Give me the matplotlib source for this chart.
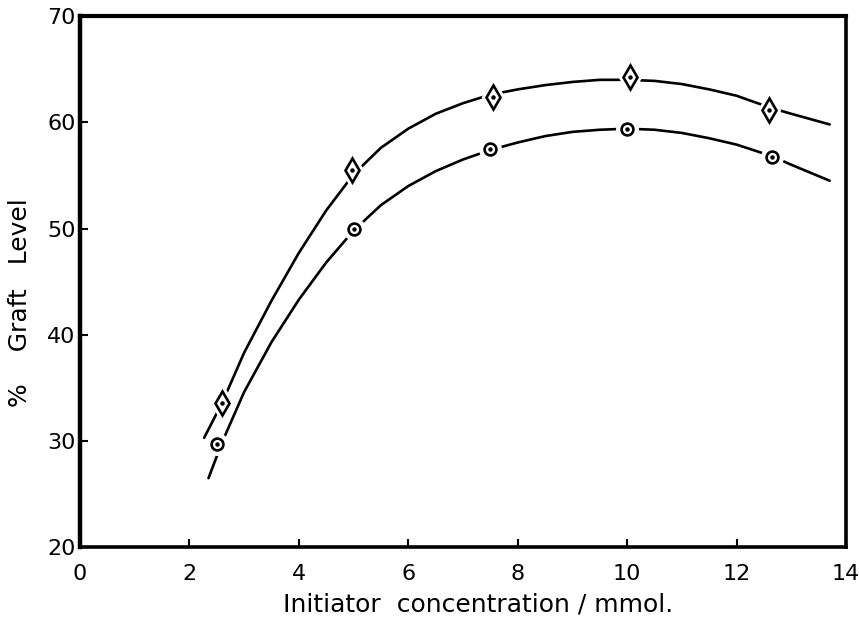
import numpy as np
import matplotlib

matplotlib.use("Agg")
import matplotlib.pyplot as plt

diamond_x = [2.6, 4.98, 7.55, 10.05, 12.6]
diamond_y = [33.6, 55.5, 62.4, 64.3, 61.2]
circle_x = [2.5, 5.0, 7.5, 10.0, 12.65]
circle_y = [29.7, 50.0, 57.5, 59.4, 56.7]

# hand-drawn curves
upper_curve_x = [2.27, 2.6, 3.0, 3.5, 4.0, 4.5, 5.0, 5.5, 6.0, 6.5, 7.0, 7.5,
                 8.0, 8.5, 9.0, 9.5, 10.0, 10.5, 11.0, 11.5, 12.0, 12.6, 13.0,
                 13.7]
upper_curve_y = [30.3, 33.6, 38.3, 43.2, 47.7, 51.7, 55.1, 57.6, 59.4, 60.8,
                 61.8, 62.6, 63.1, 63.5, 63.8, 64.0, 64.0, 63.9, 63.6, 63.1,
                 62.5, 61.4, 60.8, 59.8]
lower_curve_x = [2.35, 2.6, 3.0, 3.5, 4.0, 4.5, 5.0, 5.5, 6.0, 6.5, 7.0, 7.5,
                 8.0, 8.5, 9.0, 9.5, 10.0, 10.5, 11.0, 11.5, 12.0, 12.65, 13.0,
                 13.7]
lower_curve_y = [26.5, 29.9, 34.6, 39.3, 43.3, 46.8, 49.8, 52.2, 54.0, 55.4,
                 56.5, 57.4, 58.1, 58.7, 59.1, 59.3, 59.4, 59.3, 59.0, 58.5,
                 57.9, 56.8, 56.0, 54.5]

x_ticks = [0, 2, 4, 6, 8, 10, 12, 14]
y_ticks = [20, 30, 40, 50, 60, 70]

plt.rcParams["font.family"] = ["DejaVu Sans"]

fig = plt.figure(figsize=(8.59, 6.19), dpi=100)
ax = fig.add_axes([0.093, 0.116, 0.892, 0.858])


def draw_series(cx, cy, xs, ys, marker, ms):
    ax.plot(cx, cy, color="black", lw=1.9, zorder=2, solid_capstyle="round",
            solid_joinstyle="round")
    # white halo so the curve breaks around each point, as in the drawing
    ax.plot(xs, ys, linestyle="none", marker=marker, ms=ms + 7, mfc="white",
            mec="white", zorder=3)
    ax.plot(xs, ys, linestyle="none", marker=marker, ms=ms, mfc="white",
            mec="black", mew=1.9, zorder=4)
    ax.plot(xs, ys, linestyle="none", marker="o", ms=2.2, color="black",
            zorder=5)


draw_series(upper_curve_x, upper_curve_y, diamond_x, diamond_y, "d", 12)
draw_series(lower_curve_x, lower_curve_y, circle_x, circle_y, "o", 8.5)

ax.set_xlim(0, 14)
ax.set_ylim(20, 70)
ax.set_xticks(x_ticks)
ax.set_yticks(y_ticks)
ax.tick_params(direction="in", length=6, width=1.5, labelsize=16,
               top=False, right=False)
ax.tick_params(axis="x", pad=12)
ax.tick_params(axis="y", pad=3)

for side, w in [("left", 3.2), ("bottom", 2.6), ("top", 3.0), ("right", 2.6)]:
    ax.spines[side].set_linewidth(w)

ax.set_xlabel("Initiator  concentration / mmol.", fontsize=18)
ax.set_ylabel("%    Graft   Level", fontsize=18)
ax.xaxis.set_label_coords(0.52, -0.085)
ax.yaxis.set_label_coords(-0.062, 0.46)

fig.savefig("out.png", dpi=100)
